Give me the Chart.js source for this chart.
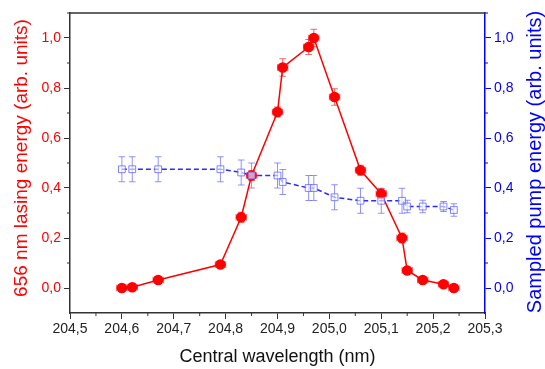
<!DOCTYPE html>
<html>
<head>
<meta charset="utf-8">
<script src="https://cdn.jsdelivr.net/npm/chart.js@4"></script>
<style>
  html, body {margin: 0; padding: 0; background: #fff}
  #wrap {width: 545px; height: 369px}
</style>
</head>
<body>
<div id="wrap"><canvas id="chart" width="545" height="369"></canvas></div>
<script>
const wavelength = [204.60, 204.62, 204.67, 204.79, 204.83, 204.85, 204.90, 204.91, 204.96, 204.97, 205.01, 205.06, 205.10, 205.14, 205.15, 205.18, 205.22, 205.24]
const lasing = [0.0, 0.003, 0.032, 0.094, 0.283, 0.45, 0.704, 0.882, 0.964, 1.0, 0.764, 0.471, 0.377, 0.20, 0.07, 0.032, 0.015, 0.0]
const lasingErr = [0.005, 0.005, 0.005, 0.005, 0.02, 0.02, 0.02, 0.035, 0.03, 0.035, 0.033, 0.02, 0.02, 0.02, 0.005, 0.005, 0.005, 0.005]
const wavelengthErr = 0.01
const pump = [0.475, 0.475, 0.475, 0.475, 0.462, 0.45, 0.45, 0.424, 0.40, 0.40, 0.363, 0.349, 0.349, 0.349, 0.326, 0.326, 0.326, 0.312]
const pumpErr = [0.05, 0.05, 0.05, 0.05, 0.05, 0.05, 0.05, 0.05, 0.05, 0.05, 0.05, 0.05, 0.05, 0.05, 0.025, 0.025, 0.02, 0.025]

const xTitle = 'Central wavelength (nm)'
const yTitle = '656 nm lasing energy (arb. units)'
const y2Title = 'Sampled pump energy (arb. units)'

const font = 'Liberation Sans, Arial, sans-serif'
const comma = v => v.toFixed(1).replace('.', ',')
const isMajorX = v => Math.abs(Math.round(v * 10) - v * 10) < 1e-6
const isMajorY = v => Math.round(v * 10) % 2 === 0 && v > -0.05 && v < 1.05

// error bars, minor ticks, frame and axis titles, drawn with the chart's own scales
const extras = {
  id: 'extras',
  beforeDatasetsDraw(chart) {
    const ctx = chart.ctx
    const x = chart.scales.x, yl = chart.scales.y, yr = chart.scales.y2
    const cap = 3.3
    ctx.save()
    ctx.lineWidth = 1
    // pump (blue) vertical bars
    ctx.strokeStyle = 'rgba(110,110,255,0.75)'
    wavelength.forEach((w, i) => {
      const px = x.getPixelForValue(w)
      const y0 = yr.getPixelForValue(pump[i] - pumpErr[i])
      const y1 = yr.getPixelForValue(pump[i] + pumpErr[i])
      ctx.beginPath()
      ctx.moveTo(px, y0); ctx.lineTo(px, y1)
      ctx.moveTo(px - cap, y0); ctx.lineTo(px + cap, y0)
      ctx.moveTo(px - cap, y1); ctx.lineTo(px + cap, y1)
      ctx.stroke()
    })
    // lasing (red) x and y bars
    ctx.strokeStyle = 'rgba(240,40,40,0.7)'
    wavelength.forEach((w, i) => {
      const px = x.getPixelForValue(w)
      const py = yl.getPixelForValue(lasing[i])
      const y0 = yl.getPixelForValue(lasing[i] - lasingErr[i])
      const y1 = yl.getPixelForValue(lasing[i] + lasingErr[i])
      const x0 = x.getPixelForValue(w - wavelengthErr)
      const x1 = x.getPixelForValue(w + wavelengthErr)
      ctx.beginPath()
      ctx.moveTo(px, y0); ctx.lineTo(px, y1)
      ctx.moveTo(px - cap, y0); ctx.lineTo(px + cap, y0)
      ctx.moveTo(px - cap, y1); ctx.lineTo(px + cap, y1)
      ctx.moveTo(x0, py); ctx.lineTo(x1, py)
      ctx.moveTo(x0, py - cap); ctx.lineTo(x0, py + cap)
      ctx.moveTo(x1, py - cap); ctx.lineTo(x1, py + cap)
      ctx.stroke()
    })
    ctx.restore()
  },
  afterDraw(chart) {
    const ctx = chart.ctx, a = chart.chartArea
    const x = chart.scales.x, yl = chart.scales.y, yr = chart.scales.y2
    ctx.save()
    // top frame
    ctx.lineWidth = 1.5
    ctx.strokeStyle = '#333'
    ctx.beginPath()
    ctx.moveTo(a.left, a.top); ctx.lineTo(a.right, a.top)
    ctx.stroke()
    // minor ticks
    ctx.lineWidth = 1
    ctx.beginPath()
    x.ticks.forEach(t => {
      if (isMajorX(t.value)) return
      const px = x.getPixelForValue(t.value)
      ctx.moveTo(px, a.bottom); ctx.lineTo(px, a.bottom + 3)
    })
    yl.ticks.forEach(t => {
      if (isMajorY(t.value) || t.value < -0.05 || t.value > 1.15) return
      const py = yl.getPixelForValue(t.value)
      ctx.moveTo(a.left, py); ctx.lineTo(a.left - 3, py)
    })
    ctx.stroke()
    ctx.strokeStyle = '#0000ff'
    ctx.beginPath()
    yr.ticks.forEach(t => {
      if (isMajorY(t.value) || t.value < -0.05 || t.value > 1.15) return
      const py = yr.getPixelForValue(t.value)
      ctx.moveTo(a.right, py); ctx.lineTo(a.right + 3, py)
    })
    ctx.stroke()
    // axis titles
    ctx.textAlign = 'center'
    ctx.textBaseline = 'middle'
    ctx.font = `18px ${font}`
    ctx.fillStyle = '#111'
    ctx.fillText(xTitle, (a.left + a.right) / 2, a.bottom + 44)
    ctx.font = `19px ${font}`
    ctx.fillStyle = '#ff0000'
    ctx.save()
    ctx.translate(22, 158)
    ctx.rotate(-Math.PI / 2)
    ctx.fillText(yTitle, 0, 0)
    ctx.restore()
    ctx.font = `20px ${font}`
    ctx.fillStyle = '#0000ff'
    ctx.translate(535, 162)
    ctx.rotate(-Math.PI / 2)
    ctx.fillText(y2Title, 0, 0)
    ctx.restore()
  }
}

new Chart(document.getElementById('chart'), {
  type: 'line',
  data: {
    datasets: [
      {
        label: 'lasing',
        data: wavelength.map((w, i) => ({x: w, y: lasing[i]})),
        yAxisID: 'y',
        borderColor: '#ff0000',
        backgroundColor: '#ff0000',
        borderWidth: 1.5,
        pointRadius: 4.6,
        pointStyle: 'circle',
        order: 2
      },
      {
        label: 'pump',
        data: wavelength.map((w, i) => ({x: w, y: pump[i]})),
        yAxisID: 'y2',
        borderColor: '#2b2bff',
        borderWidth: 1.5,
        borderDash: [5, 3],
        pointStyle: 'rect',
        pointRadius: 4.8,
        pointBorderWidth: 1,
        pointBorderColor: 'rgba(100,100,255,0.8)',
        pointBackgroundColor: 'rgba(255,255,255,0.6)',
        order: 1
      }
    ]
  },
  options: {
    responsive: false,
    animation: false,
    layout: {padding: {top: 13, left: 0, right: 0, bottom: 0}},
    plugins: {legend: {display: false}, tooltip: {enabled: false}},
    scales: {
      x: {
        type: 'linear',
        min: 204.5,
        max: 205.3,
        border: {color: '#333', width: 1.5},
        grid: {
          drawOnChartArea: false, drawTicks: true, tickLength: 6,
          tickColor: c => isMajorX(c.tick.value) ? '#333' : 'rgba(0,0,0,0)'
        },
        ticks: {
          stepSize: 0.05,
          autoSkip: false,
          maxRotation: 0,
          color: '#222',
          font: {family: font, size: 14},
          padding: 2,
          callback: v => isMajorX(v) ? comma(v) : ''
        },
        afterFit: s => { s.height = 56 }
      },
      y: {
        position: 'left',
        min: -0.1,
        max: 1.1,
        border: {color: '#333', width: 1.5},
        grid: {
          drawOnChartArea: false, drawTicks: true, tickLength: 6,
          tickColor: c => isMajorY(c.tick.value) ? '#333' : 'rgba(0,0,0,0)'
        },
        ticks: {
          stepSize: 0.1,
          autoSkip: false,
          color: '#ff0000',
          font: {family: font, size: 14},
          padding: 3,
          callback: v => isMajorY(v) ? comma(v) : ''
        },
        afterFit: s => { s.width = 70 }
      },
      y2: {
        position: 'right',
        min: -0.1,
        max: 1.1,
        border: {color: '#0000ff', width: 1.5},
        grid: {
          drawOnChartArea: false, drawTicks: true, tickLength: 6,
          tickColor: c => isMajorY(c.tick.value) ? '#0000ff' : 'rgba(0,0,0,0)'
        },
        ticks: {
          stepSize: 0.1,
          autoSkip: false,
          color: '#0000ff',
          font: {family: font, size: 14},
          padding: 3,
          callback: v => isMajorY(v) ? comma(v) : ''
        },
        afterFit: s => { s.width = 60 }
      }
    }
  },
  plugins: [extras]
})
</script>
</body>
</html>
